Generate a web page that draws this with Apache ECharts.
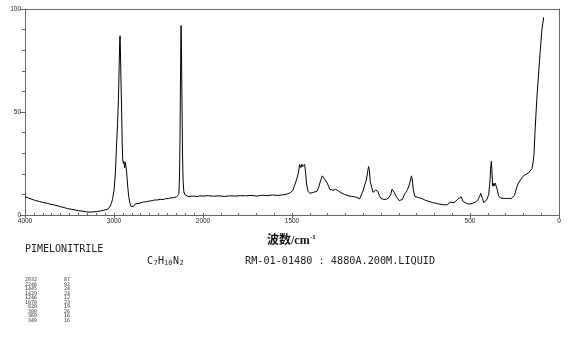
<!DOCTYPE html>
<html>
<head>
<meta charset="utf-8">
<script src="https://cdn.jsdelivr.net/npm/echarts@6/dist/echarts.min.js"></script>
<style>
html,body{margin:0;padding:0;background:#fff;}
#c{width:570px;height:357px;}
</style>
</head>
<body>
<div id="c"></div>
<script>
// High wavenumber segment (4000-2000 cm-1)
const wnHigh = [4000,3960,3920,3880,3840,3800,3760,3720,3680,3640,3600,3560,3520,3480,3440,3400,3360,3320,3280,3240,3200,3160,3120,3080,3050,3030,3015,3000,2985,2970,2960,2950,2942,2936,2932,2928,2922,2915,2908,2902,2895,2888,2880,2872,2866,2858,2848,2835,2820,2805,2790,2775,2760,2740,2720,2700,2680,2650,2620,2600,2570,2540,2510,2480,2450,2420,2390,2360,2330,2300,2285,2272,2264,2258,2252,2248,2246,2242,2236,2230,2224,2216,2205,2190,2170,2150,2130,2100,2070,2040,2000];
const intHigh = [9.0,8.2,7.6,7.0,6.6,6.1,5.8,5.3,5.0,4.5,4.0,3.6,3.1,2.8,2.5,2.1,1.9,1.6,1.4,1.5,1.7,1.9,2.3,2.7,3.7,5.5,8,12,20,35,44,56,72,84,87,80,66,52,35,27,25,26,23,25.5,25,21,15,9,5.5,4,3.6,4.4,5.4,5.8,5.6,6.0,6.2,6.4,6.6,7.0,7.0,7.3,7.3,7.6,7.5,7.9,8.0,8.3,8.4,8.8,8.4,10,18,38,70,88,92,82,55,30,17,11.5,10,9.3,9.0,9.4,9.1,9.2,8.9,9.3,9.2];
// Low wavenumber segment (2000-0 cm-1)
const wnLow = [2000,1970,1940,1910,1880,1850,1820,1790,1760,1730,1700,1670,1640,1610,1580,1550,1530,1510,1495,1485,1475,1465,1457,1450,1445,1440,1434,1429,1424,1418,1410,1400,1390,1380,1370,1360,1350,1340,1330,1325,1318,1310,1302,1295,1288,1280,1270,1262,1255,1246,1238,1228,1218,1205,1195,1180,1165,1150,1135,1120,1110,1100,1090,1082,1075,1070,1066,1060,1052,1045,1038,1030,1024,1018,1010,1000,985,970,955,945,938,932,926,918,910,898,890,880,870,860,850,840,832,829,824,818,810,800,790,780,770,760,750,740,730,720,710,700,690,680,670,660,650,640,630,620,610,600,590,580,570,560,550,545,538,528,515,500,490,478,465,455,446,440,436,430,423,415,405,395,388,383,380,377,373,370,366,362,358,354,350,346,340,332,320,310,300,285,270,260,250,242,235,228,220,212,205,198,190,180,170,160,152,145,140,135,130,125,116,107,96,86];
const intLow = [9.2,9.4,9.1,9.3,9.0,9.3,9.2,9.4,9.3,9.5,9.2,9.6,9.4,9.7,9.5,9.8,10.1,10.8,12,14.5,17,20,24.5,23,24.7,23.5,22.8,24.5,21,15,11.5,10.5,10.8,11,11.2,11.5,13.5,16.5,19,18.5,17.5,17,15.5,14,12.5,13,12,11.5,12.5,13,11.5,11,10.5,10,9.4,9.2,9,8.9,8.5,7.8,8.2,12,15,17,21,23.5,22,16,13.5,11,10.8,12,12.5,11.5,9.5,8,7.6,7.6,8.5,10,12.5,13,11,9.5,8.5,7.0,6.6,7.5,9.7,11,12.5,15,18,19,17,12,9,8.7,8.5,8.4,8,7.6,7.1,7,6.6,6.2,6,5.8,5.7,5.5,5.2,5.1,5,4.9,4.9,5.4,6.2,6.5,6,6.8,7.5,7.8,8.8,8.5,6.5,5.7,5.5,5.3,5.5,5.9,6.5,7.5,9,10.5,10,8,6,6.4,7.5,10,16,24,26,22,14,15.5,14,14.5,15.5,15,16,12,9.5,8.5,8.1,8.3,8.0,8.1,7.9,8.2,9.5,12,14,15.5,16.5,17.5,18.5,18,19.5,20,20.5,21,22.5,26,30,40,48,56,67,78,90,96];
// Tick labels
const xLabelsHigh = [4000, 3000];
const xLabelsLow = [2000, 1500, 500, 0];
const yLabels = [0, 50, 100];
// Peak table
const peakWn = ['2932','2246','1445','1429','1246','1070','829','380','369','349'];
const peakInt = ['87','92','24','24','12','23','19','26','16','16'];

const chart = echarts.init(document.getElementById('c'), null, {renderer:'canvas'});
const axisCol = '#666';
const lblStyle = {fontSize:6.5, color:'#222', fontFamily:'Liberation Sans', formatter:function(v){return String(v);}};

function xAxes(grid, min, max, labels){
  return [
    {gridIndex:grid, type:'value', min:min, max:max, inverse:true, position:'bottom', interval:100,
     axisLine:{show:true, lineStyle:{color:axisCol, width:1}},
     axisTick:{show:true, inside:true, length:2, lineStyle:{color:axisCol}},
     axisLabel:{show:false}, splitLine:{show:false}},
    {gridIndex:grid, type:'value', min:min, max:max, inverse:true, position:'bottom',
     axisLine:{show:false},
     axisTick:{show:true, customValues:labels, length:3, lineStyle:{color:axisCol}},
     axisLabel:Object.assign({show:true, customValues:labels, margin:3, showMinLabel:true, showMaxLabel:true}, lblStyle),
     splitLine:{show:false}},
    {gridIndex:grid, type:'value', min:min, max:max, inverse:true, position:'top',
     axisLine:{show:true, lineStyle:{color:axisCol, width:1}},
     axisTick:{show:false}, axisLabel:{show:false}, splitLine:{show:false}}
  ];
}

const highData = wnHigh.map((w,i)=>[w,intHigh[i]]);
const lowData = wnLow.map((w,i)=>[w,intLow[i]]);

const graphics = [];
graphics.push({type:'text', left:267, top:235, style:{text:'波数/cm', fontSize:12, fontWeight:'bold', fontFamily:'Liberation Serif, Noto Sans CJK SC', fill:'#111'}});
graphics.push({type:'text', left:310, top:234, style:{text:'-1', fontSize:7, fontWeight:'bold', fontFamily:'Liberation Serif', fill:'#111'}});
const mono = 'DejaVu Sans Mono';
graphics.push({type:'text', left:25, top:244, style:{text:'PIMELONITRILE', fontSize:10, fontFamily:mono, fill:'#222'}});
const formula = [['C',147,0],['7',153.5,1],['H',158,0],['10',164,1],['N',173,0],['2',179.5,1]];
formula.forEach(f=>{
  graphics.push({type:'text', left:f[1], top: f[2]? 260 : 256, style:{text:f[0], fontSize: f[2]?7:10, fontFamily:mono, fill:'#222'}});
});
graphics.push({type:'text', left:245, top:256, style:{text:'RM-01-01480 : 4880A.200M.LIQUID', fontSize:10.2, fontFamily:mono, fill:'#222'}});
peakWn.forEach((w,i)=>{
  graphics.push({type:'text', x:37, y:280+i*4.5, style:{text:w, fontSize:5, fontFamily:mono, fill:'#333', align:'right', verticalAlign:'middle'}});
  graphics.push({type:'text', x:70, y:280+i*4.5, style:{text:peakInt[i], fontSize:5, fontFamily:mono, fill:'#333', align:'right', verticalAlign:'middle'}});
});

const option = {
  animation:false,
  backgroundColor:'#fff',
  grid:[
    {left:25, top:9, width:178, height:206},
    {left:203, top:9, width:356, height:206}
  ],
  xAxis: xAxes(0, 2000, 4000, xLabelsHigh).concat(xAxes(1, 0, 2000, xLabelsLow)),
  yAxis:[
    {gridIndex:0, type:'value', min:0, max:100, interval:10, position:'left',
     axisLine:{show:true, lineStyle:{color:axisCol}},
     axisTick:{show:true, length:3, lineStyle:{color:axisCol}},
     axisLabel:Object.assign({show:true, customValues:yLabels, margin:4}, lblStyle),
     splitLine:{show:false}},
    {gridIndex:0, type:'value', min:0, max:100, position:'left',
     axisLine:{show:false},
     axisTick:{show:true, customValues:yLabels, length:5, lineStyle:{color:axisCol}},
     axisLabel:{show:false}, splitLine:{show:false}},
    {gridIndex:1, type:'value', min:0, max:100, position:'right',
     axisLine:{show:true, lineStyle:{color:axisCol}},
     axisTick:{show:false}, axisLabel:{show:false}, splitLine:{show:false}}
  ],
  series:[
    {type:'line', xAxisIndex:0, yAxisIndex:0, data:highData, showSymbol:false, symbol:'none',
     lineStyle:{color:'#000', width:1}, silent:true},
    {type:'line', xAxisIndex:3, yAxisIndex:2, data:lowData, showSymbol:false, symbol:'none',
     lineStyle:{color:'#000', width:1}, silent:true}
  ],
  graphic: graphics
};
chart.setOption(option);
</script>
</body>
</html>
